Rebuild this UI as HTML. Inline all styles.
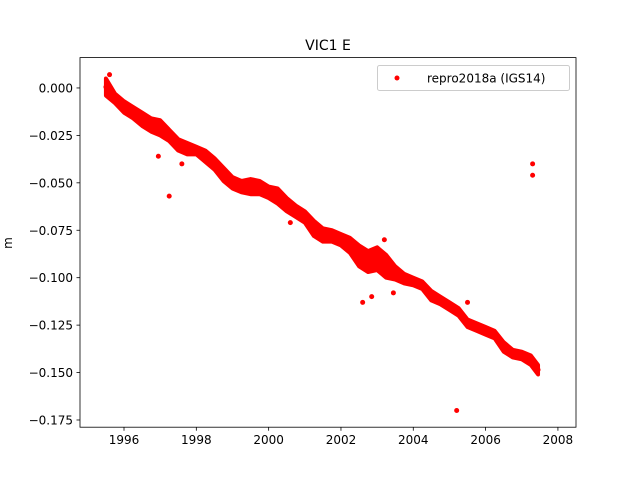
<!DOCTYPE html>
<html><head><meta charset="utf-8">
<style>
body{margin:0;background:#fff;}
svg{display:block;font-family:"DejaVu Sans","Liberation Sans",sans-serif;}
</style></head>
<body>
<svg id="chart" width="640" height="480" viewBox="0 0 640 480">
<rect width="640" height="480" fill="#fff"/>
<text x="328" y="50" font-size="14" text-anchor="middle">VIC1 E</text>
<text transform="translate(12,243) rotate(-90)" font-size="12" text-anchor="middle">m</text>
<g id="marks"></g>
<g id="axes"></g>
<g>
<rect x="377.5" y="65.5" width="192" height="25" fill="#fff" stroke="#ccc" rx="2"/>
<circle cx="397" cy="78" r="2.5" fill="red"/>
<text x="427" y="82.5" font-size="12">repro2018a (IGS14)</text>
</g>
</svg>
<script>
const times=[1995.5,1995.75,1996,1996.25,1996.5,1996.75,1997,1997.25,1997.5,1997.75,1998,1998.25,1998.5,1998.75,1999,1999.25,1999.5,1999.75,2000,2000.25,2000.5,2000.75,2001,2001.25,2001.5,2001.75,2002,2002.25,2002.5,2002.75,2003,2003.25,2003.5,2003.75,2004,2004.25,2004.5,2004.75,2005,2005.25,2005.5,2005.75,2006,2006.25,2006.5,2006.75,2007,2007.25,2007.45];
const upper=[0.005,-0.003,-0.007,-0.010,-0.013,-0.016,-0.017,-0.022,-0.027,-0.029,-0.031,-0.033,-0.037,-0.042,-0.047,-0.049,-0.048,-0.049,-0.052,-0.053,-0.058,-0.062,-0.065,-0.070,-0.074,-0.075,-0.077,-0.079,-0.083,-0.086,-0.084,-0.088,-0.094,-0.098,-0.100,-0.102,-0.107,-0.110,-0.113,-0.116,-0.122,-0.124,-0.126,-0.128,-0.134,-0.138,-0.139,-0.141,-0.146];
const lower=[-0.004,-0.008,-0.013,-0.016,-0.020,-0.023,-0.025,-0.028,-0.033,-0.035,-0.035,-0.039,-0.043,-0.049,-0.053,-0.055,-0.056,-0.056,-0.058,-0.061,-0.065,-0.068,-0.071,-0.078,-0.081,-0.081,-0.083,-0.087,-0.094,-0.097,-0.096,-0.100,-0.101,-0.103,-0.104,-0.106,-0.112,-0.114,-0.117,-0.120,-0.126,-0.128,-0.130,-0.132,-0.139,-0.142,-0.143,-0.146,-0.151];
const outT=[1995.6,1996.95,1997.25,1997.6,2000.6,2002.6,2002.85,2003.2,2003.45,2005.2,2005.5,2007.3,2007.3];
const outV=[0.007,-0.036,-0.057,-0.040,-0.071,-0.113,-0.110,-0.080,-0.108,-0.170,-0.113,-0.040,-0.046];
const xTicks=[1996,1998,2000,2002,2004,2006,2008];
const yTicks=[0,-0.025,-0.05,-0.075,-0.1,-0.125,-0.15,-0.175];
const yLabels=["0.000","−0.025","−0.050","−0.075","−0.100","−0.125","−0.150","−0.175"];
const L=80,R=576,T=57.6,B=427.2;
const x0=1994.783,x1=2008.5,y0=-0.1788,y1=0.016;
const X=t=>L+(t-x0)/(x1-x0)*(R-L);
const Y=v=>B-(v-y0)/(y1-y0)*(B-T);
const NS="http://www.w3.org/2000/svg";
const marks=document.getElementById('marks'),axes=document.getElementById('axes');
function mk(tag,attrs,parent){const e=document.createElementNS(NS,tag);for(const k in attrs)e.setAttribute(k,attrs[k]);parent.appendChild(e);return e;}
let pts=times.map((t,i)=>X(t)+','+Y(upper[i]));
for(let i=times.length-1;i>=0;i--)pts.push(X(times[i])+','+Y(lower[i]));
const band=mk('polygon',{points:pts.join(' '),fill:'red',stroke:'red','stroke-width':4,'stroke-linejoin':'round'},marks);


times.forEach((t,i)=>{
 const c=mk('circle',{cx:X(t),cy:Y((upper[i]+lower[i])/2),r:2.5,fill:'red'},marks);
 
 
});
outT.forEach((t,i)=>{
 const c=mk('circle',{cx:X(t),cy:Y(outV[i]),r:2.5,fill:'red'},marks);
 
 
});
const frame=mk('rect',{x:L,y:T,width:R-L,height:B-T,fill:'none',stroke:'#000','stroke-width':0.8},axes);


xTicks.forEach(t=>{
 mk('line',{x1:X(t),x2:X(t),y1:B,y2:B+3.5,stroke:'#000','stroke-width':0.8},axes);
 const tx=mk('text',{x:X(t),y:B+17,'font-size':12,'text-anchor':'middle'},axes);
 tx.textContent=t;
 
 
});
yTicks.forEach((v,i)=>{
 mk('line',{x1:L-3.5,x2:L,y1:Y(v),y2:Y(v),stroke:'#000','stroke-width':0.8},axes);
 const tx=mk('text',{x:L-7,y:Y(v)+4.5,'font-size':12,'text-anchor':'end'},axes);
 tx.textContent=yLabels[i];
 
 
});
</script>
</body></html>
